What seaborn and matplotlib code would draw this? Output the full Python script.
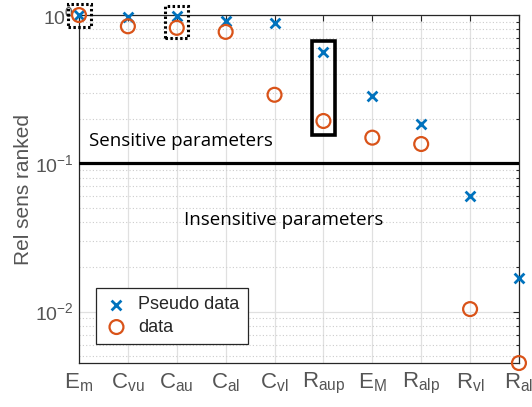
import numpy as np
import pandas as pd
import matplotlib
matplotlib.use("Agg")
import matplotlib.pyplot as plt
import seaborn as sns
from matplotlib.patches import Rectangle
from matplotlib.ticker import LogLocator, NullFormatter

categories = ["E_m", "C_{vu}", "C_{au}", "C_{al}", "C_{vl}", "R_{aup}", "E_M", "R_{alp}", "R_{vl}", "R_{al}"]
pseudo_values = [1.0, 0.97, 0.98, 0.91, 0.88, 0.565, 0.285, 0.185, 0.060, 0.0168]
data_values = [1.0, 0.84, 0.82, 0.77, 0.29, 0.193, 0.149, 0.135, 0.0104, 0.0045]
threshold = 0.1

sns.set_theme(style="white")
plt.rcParams["font.family"] = ["Liberation Sans", "DejaVu Sans"]
plt.rcParams["mathtext.fontset"] = "custom"
plt.rcParams["mathtext.rm"] = "Liberation Sans"
plt.rcParams["mathtext.it"] = "Liberation Sans:italic"
plt.rcParams["mathtext.bf"] = "Liberation Sans:bold"

pos = np.arange(1, len(categories) + 1)
df_p = pd.DataFrame({"x": pos, "y": pseudo_values})
df_d = pd.DataFrame({"x": pos, "y": data_values})

fig = plt.figure(figsize=(5.32, 4.07), dpi=100)
ax = fig.add_axes([0.1485, 0.108, 0.827, 0.855])

blue = "#0072BD"
orange = "#D95319"
gray = "#555555"

sns.scatterplot(data=df_p, x="x", y="y", ax=ax, marker="x", color=blue, s=50,
                linewidth=2, label="Pseudo data", clip_on=False, zorder=5)
sns.scatterplot(data=df_d, x="x", y="y", ax=ax, marker="o", facecolors="none",
                edgecolor=orange, s=100, linewidth=1.6, label="data", clip_on=False, zorder=5)

ax.set_yscale("log")
ax.set_xlim(1, 10)
ax.set_ylim(0.0045, 1.0)

ax.axhline(threshold, color="black", lw=2.3, zorder=4)

# highlight boxes
ax.add_patch(Rectangle((0.78, 0.83), 0.47, 1.19 - 0.83, fill=False, ec="black",
                       lw=2.2, ls=(0, (0.8, 0.8)), clip_on=False, zorder=6))
ax.add_patch(Rectangle((2.76, 0.70), 0.47, 1.15 - 0.70, fill=False, ec="black",
                       lw=2.2, ls=(0, (0.8, 0.8)), clip_on=False, zorder=6))
ax.add_patch(Rectangle((5.77, 0.155), 0.47, 0.672 - 0.155, fill=False, ec="black",
                       lw=2.6, clip_on=False, zorder=6))

ax.text(1.2, 0.130, "Sensitive parameters", fontsize=13.5, family=["Open Sans", "DejaVu Sans"],
        color="black", va="baseline", ha="left")
ax.text(3.14, 0.0381, "Insensitive parameters", fontsize=13.5, family=["Open Sans", "DejaVu Sans"],
        color="black", va="baseline", ha="left")

ax.set_xticks(pos)
ax.set_xticklabels([r"$\mathregular{" + c + "}$" for c in categories], fontsize=16, color=gray)
ax.yaxis.set_major_locator(LogLocator(base=10, numticks=10))
ax.yaxis.set_minor_locator(LogLocator(base=10, subs=np.arange(2, 10), numticks=20))
ax.yaxis.set_minor_formatter(NullFormatter())
ax.tick_params(axis="y", which="major", labelsize=14, labelcolor=gray)
ax.tick_params(axis="both", which="both", direction="in", top=True, right=True,
               color="#262626", length=4, width=0.8)
ax.tick_params(axis="y", which="minor", length=2.5)
ax.tick_params(axis="x", which="major", pad=6)

ax.set_xlabel("")
ax.set_ylabel("Rel sens ranked", fontsize=15, color=gray, labelpad=2)

ax.grid(True, which="major", axis="both", color="#e0e0e0", lw=0.9, ls="-")
ax.grid(True, which="minor", axis="y", color="#cccccc", lw=0.8, ls=(0, (1, 2)))
ax.set_axisbelow(True)

for s in ax.spines.values():
    s.set_visible(True)
    s.set_color("#262626")
    s.set_linewidth(0.9)

leg = ax.legend(loc="lower left", bbox_to_anchor=(0.038, 0.055), fontsize=13,
                frameon=True, fancybox=False, edgecolor="#262626", framealpha=1,
                handletextpad=0.5, borderpad=0.45, labelspacing=0.3, handlelength=1.4,
                borderaxespad=0)
leg.get_frame().set_linewidth(0.9)

fig.savefig("out.png", dpi=100)
